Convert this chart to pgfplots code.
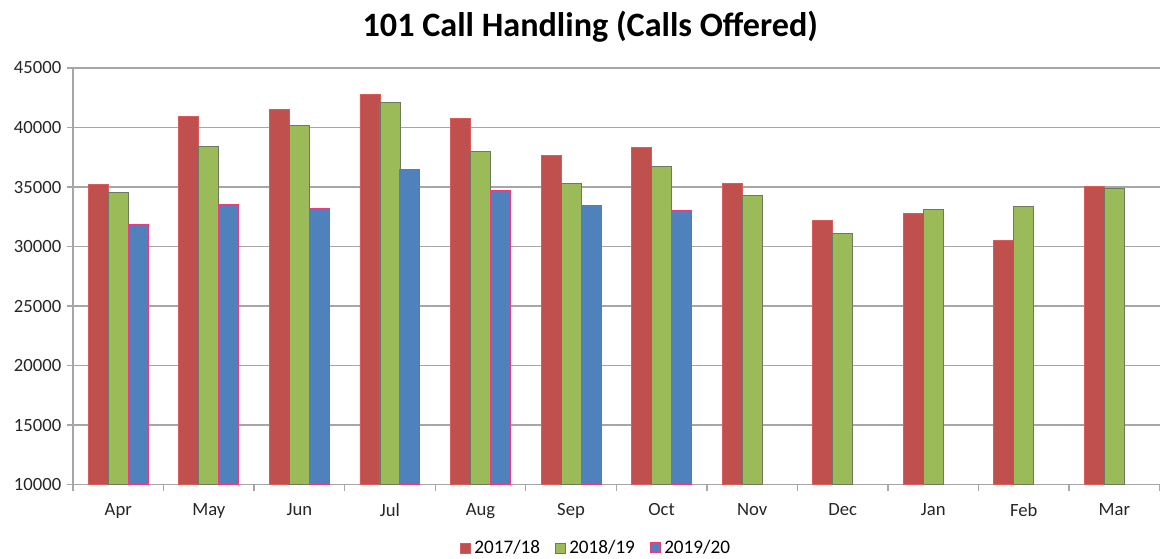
\documentclass[border=0pt]{standalone}
\usepackage{fontspec}
\setmainfont{Carlito}
\usepackage{pgfplots}
\pgfplotsset{compat=1.18}
\definecolor{redfill}{HTML}{C0504D}
\definecolor{reddraw}{HTML}{D95B5A}
\definecolor{greenfill}{HTML}{9BBB59}
\definecolor{greendraw}{HTML}{6E7A5E}
\definecolor{bluefill}{HTML}{4F81BD}
\definecolor{bluedraw}{HTML}{F0387A}
\definecolor{gridgray}{HTML}{A6A6A6}

\begin{document}
\begin{tikzpicture}
\useasboundingbox (-43.8pt,-44.4pt) rectangle (655.8pt,290.8pt);
\begin{axis}[
    scale only axis,
    width=652pt,
    height=250pt,
    ybar=0pt,
    bar width=12pt,
    xmin=-0.5, xmax=11.5,
    ymin=10000, ymax=45000,
    ytick={10000,15000,...,45000},
    scaled y ticks=false,
    xtick={0,...,11},
    xticklabels={Apr,May,Jun,Jul,Aug,Sep,Oct,Nov,Dec,Jan,Feb,Mar},
    minor xtick={-0.5,0.5,...,11.5},
    major x tick style={draw=none},
    minor x tick style={gridgray, line width=0.8pt},
    minor tick length=3.5pt,
    major tick length=3.5pt,
    tick align=outside,
    axis x line*=bottom,
    axis y line*=left,
    axis line style={gridgray, line width=0.8pt},
    ytick style={gridgray, line width=0.8pt},
    ymajorgrids,
    grid style={gridgray, line width=0.8pt},
    /pgf/number format/1000 sep={},
    /pgf/number format/assume math mode=true,
    tick label style={font=\fontsize{11.2}{13}\selectfont, text=black!85},
    xticklabel style={yshift=-4pt},
    legend columns=3,
    legend style={draw=none, font=\fontsize{11.5}{13}\selectfont,
        at={(0.482,-0.152)}, anchor=center,
        /tikz/every even column/.append style={column sep=7pt}},
    legend image code/.code={\draw[#1] (0pt,-3pt) rectangle (6pt,3pt);},
    title={\bfseries 101 Call Handling (Calls Offered)},
    title style={font=\fontsize{20.5}{23}\selectfont, at={(0.476,1)}, yshift=6pt},
    clip=false,
]
\addplot[fill=redfill, draw=reddraw, line width=0.5pt] coordinates {
    (0,35200) (1,40900) (2,41550) (3,42770) (4,40760) (5,37650)
    (6,38350) (7,35270) (8,32160) (9,32800) (10,30480) (11,35050)
};
\addlegendentry{2017/18}
\addplot[fill=greenfill, draw=greendraw, line width=0.5pt] coordinates {
    (0,34540) (1,38400) (2,40190) (3,42070) (4,37960) (5,35270)
    (6,36700) (7,34260) (8,31090) (9,33110) (10,33390) (11,34900)
};
\addlegendentry{2018/19}
\addplot[fill=bluefill, draw=bluedraw, line width=0.6pt] coordinates {
    (0,31870) (1,33550) (2,33190) (3,36440) (4,34700) (5,33470) (6,33000)
};
\addlegendentry{2019/20}
\end{axis}
\end{tikzpicture}
\end{document}
